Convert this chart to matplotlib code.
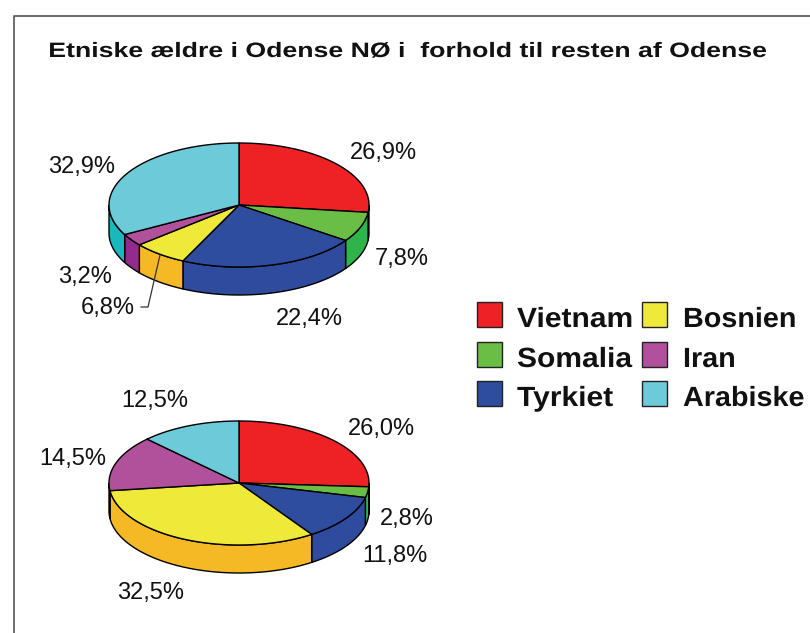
import numpy as np
import matplotlib
matplotlib.use('Agg')
import matplotlib.pyplot as plt
from matplotlib.patches import Polygon, Rectangle
from matplotlib.patheffects import AbstractPathEffect
from matplotlib.transforms import Affine2D

plt.rcParams['font.family'] = ['Liberation Sans', 'DejaVu Sans']

countries = ['Vietnam', 'Somalia', 'Tyrkiet', 'Bosnien', 'Iran', 'Arabiske']
values_top = [26.9, 7.8, 22.4, 6.8, 3.2, 32.9]
values_bottom = [26.0, 2.8, 11.8, 32.5, 14.5, 12.5]

colors = ['#ee2224', '#6abd45', '#2e4d9f', '#efea3a', '#b1519c', '#6dcbd9']
side_colors = ['#5c1214', '#2fb44b', '#2f4b9e', '#f6b926', '#922b8c', '#1ab7bd']

# label centres in pixels
label_pos_top = [(383, 153), (402, 259), (309, 319), (108, 308), (85, 277), (82, 167)]
label_pos_bottom = [(381, 429), (407, 519), (395, 556), (151, 593), (73, 459), (155, 401)]

RX, RY, DEPTH = 130, 62, 28

fig = plt.figure(figsize=(8.1, 6.33), dpi=100)
ax = fig.add_axes([0, 0, 1, 1])
ax.set_xlim(0, 810)
ax.set_ylim(633, 0)
ax.axis('off')


class StretchX(AbstractPathEffect):
    # the source text is wider than the font, stretch it around x0 (pixels)
    def __init__(self, x0, factor):
        super().__init__()
        self.x0 = x0
        self.factor = factor

    def draw_path(self, renderer, gc, tpath, affine, rgbFace=None):
        stretch = Affine2D().translate(-self.x0, 0).scale(self.factor, 1).translate(self.x0, 0)
        renderer.draw_path(gc, tpath, affine + stretch, rgbFace)


def arc(cx, cy, a0, a1):
    # angles in degrees, clockwise from 12 o'clock
    t = np.radians(np.linspace(a0, a1, max(int(a1 - a0) * 2, 2)))
    return np.column_stack([cx + RX * np.sin(t), cy - RY * np.cos(t)])


def draw_pie(cx, cy, values, label_pos):
    stops = np.cumsum([0] + list(values)) / sum(values) * 360
    # side wall, only the front half shows
    for i in range(len(values)):
        a0, a1 = max(stops[i], 90), min(stops[i + 1], 270)
        if a1 <= a0:
            continue
        upper = arc(cx, cy, a0, a1)
        lower = upper[::-1] + [0, DEPTH]
        ax.add_patch(Polygon(np.vstack([upper, lower]), closed=True, fc=side_colors[i], ec='black', lw=1))
    for i in range(len(values)):
        pts = np.vstack([[cx, cy], arc(cx, cy, stops[i], stops[i + 1])])
        ax.add_patch(Polygon(pts, closed=True, fc=colors[i], ec='black', lw=1, joinstyle='round'))
    for v, (x, y) in zip(values, label_pos):
        ax.text(x, y, ('%.1f%%' % v).replace('.', ','), fontsize=17, ha='center', va='center', color='#111111')


draw_pie(239, 205, values_top, label_pos_top)
draw_pie(239, 483, values_bottom, label_pos_bottom)

# leader line for 6,8%
ax.plot([160, 148, 141], [255, 307, 307], color='#333333', lw=0.9)

# chart frame, runs off the right and bottom edge
ax.plot([14, 14, 810], [633, 16, 16], color='#555555', lw=1.2)

ax.text(409, 51.5, 'Etniske ældre i Odense NØ i  forhold til resten af Odense',
        fontsize=15, fontweight='bold', ha='center', va='center', color='#111111',
        path_effects=[StretchX(409, 1.28)])

# legend
swatch_x = [477, 642]
text_x = [517, 683]
text_stretch = [1.08, 1.035]
row_y = [302, 342, 381]
for i, name in enumerate(countries):
    col, row = i // 3, i % 3
    ax.add_patch(Rectangle((swatch_x[col], row_y[row]), 25, 25, fc=colors[i], ec='#222222', lw=1))
    ax.text(text_x[col], row_y[row] + 18, name, fontsize=20, fontweight='bold', ha='left', va='center',
            color='#111111', path_effects=[StretchX(text_x[col], text_stretch[col])])

fig.savefig('out.png', dpi=100, facecolor='white')
